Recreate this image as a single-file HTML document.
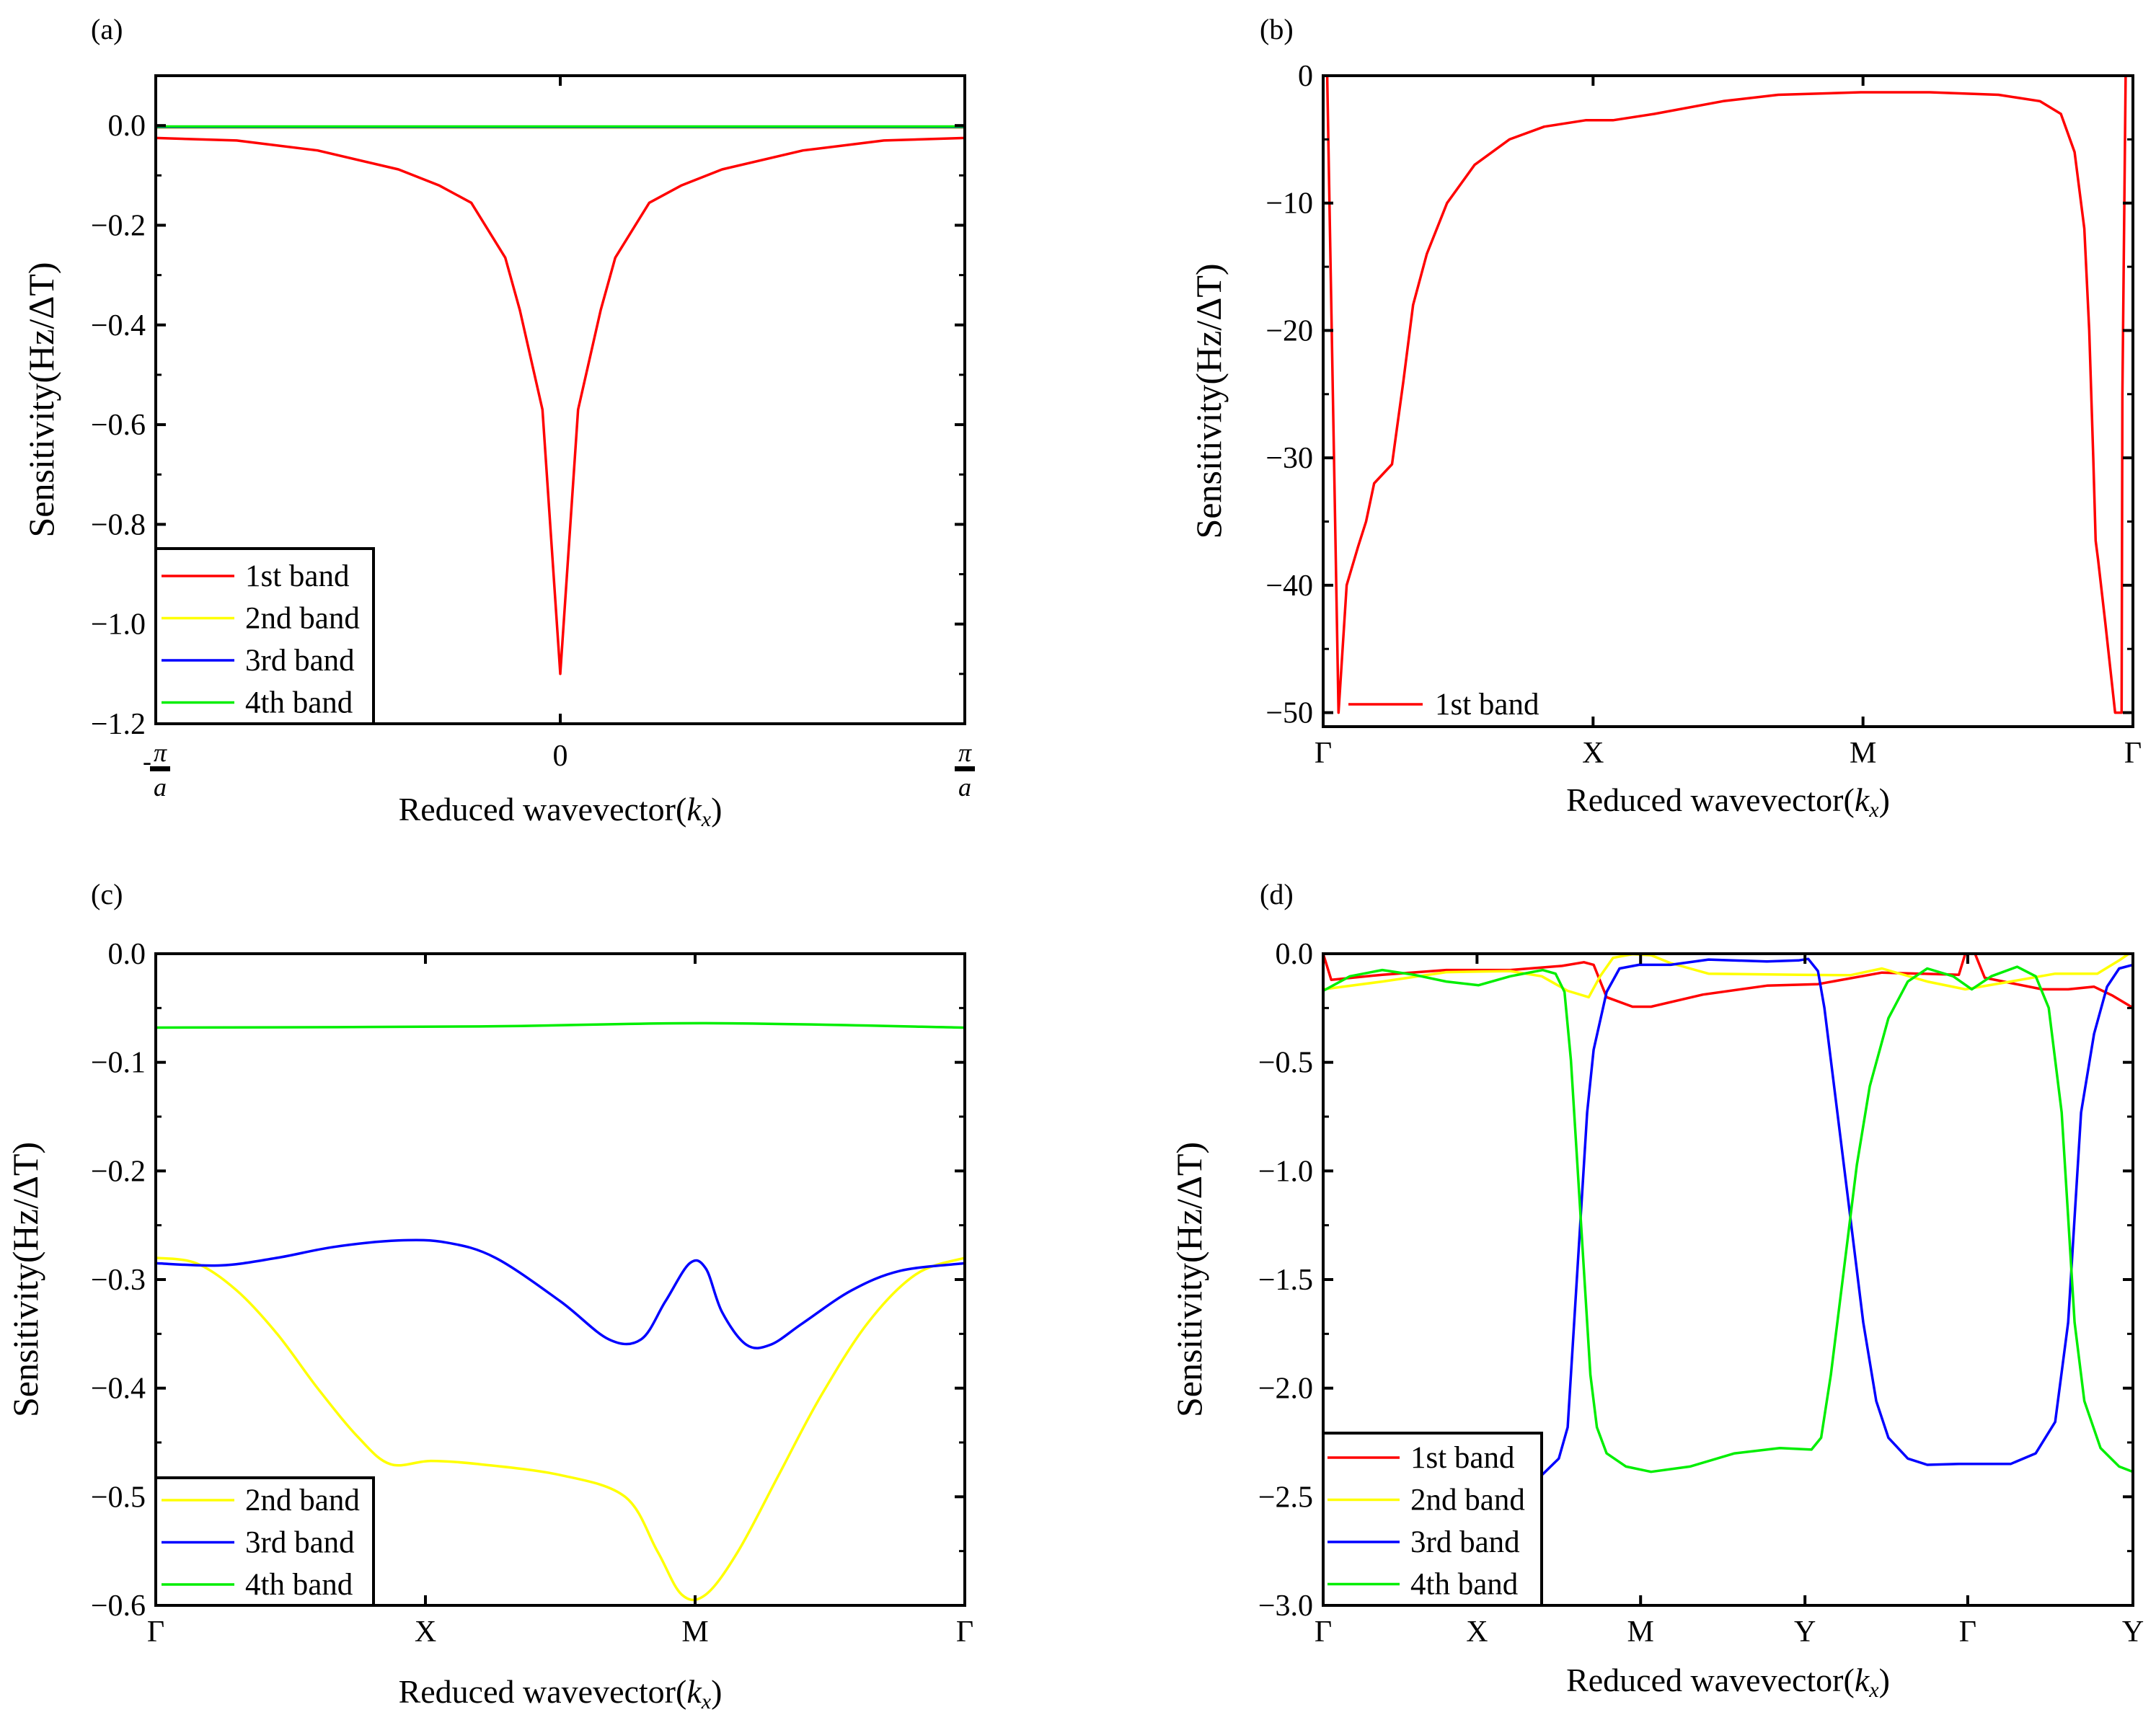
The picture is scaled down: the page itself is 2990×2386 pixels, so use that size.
<!DOCTYPE html>
<html><head><meta charset="utf-8"><style>
html,body{margin:0;padding:0;background:#fff;}
svg{display:block;font-family:"Liberation Serif",serif;}
</style></head><body>
<svg id="fig" width="2990" height="2386" viewBox="0 0 2990 2386" xmlns="http://www.w3.org/2000/svg"></svg>
<script>
// ---- Panel (a) data ----
const aX=[-1,-0.8,-0.6,-0.4,-0.3,-0.22,-0.136,-0.1,-0.044,0,0.044,0.1,0.136,0.22,0.3,0.4,0.6,0.8,1];
const a1=[-0.025,-0.03,-0.05,-0.088,-0.12,-0.155,-0.265,-0.37,-0.57,-1.1,-0.57,-0.37,-0.265,-0.155,-0.12,-0.088,-0.05,-0.03,-0.025];
const aFlatX=[-1,1];
const a2=[-0.004,-0.004];
const a3=[-0.003,-0.003];
const a4=[-0.002,-0.002];
const aTicksY=[0,-0.2,-0.4,-0.6,-0.8,-1.0,-1.2];
const aTickLabelsY=["0.0","\u22120.2","\u22120.4","\u22120.6","\u22120.8","\u22121.0","\u22121.2"];
// ---- Panel (b) data ----
const bX=[0,0.005,0.019,0.029,0.043,0.053,0.063,0.085,0.099,0.111,0.128,0.153,0.187,0.23,0.273,0.324,0.358,0.409,0.494,0.562,0.664,0.749,0.834,0.885,0.911,0.928,0.94,0.946,0.951,0.954,0.957,0.966,0.978,0.986,0.987,0.991];
const b1=[0,0,-50,-40,-37,-35,-32,-30.5,-24,-18,-14,-10,-7,-5,-4,-3.5,-3.5,-3,-2,-1.5,-1.3,-1.3,-1.5,-2,-3,-6,-12,-20,-30,-36.5,-38,-43,-50,-50,-25,0];
const bTicksY=[0,-10,-20,-30,-40,-50];
const bTickLabelsY=["0","\u221210","\u221220","\u221230","\u221240","\u221250"];
// ---- Panel (c) data ----
const c2X=[0,0.05,0.1,0.15,0.2,0.25,0.29,0.34,0.4,0.5,0.58,0.62,0.65,0.68,0.72,0.77,0.82,0.88,0.94,1];
const c2=[-0.28,-0.285,-0.31,-0.35,-0.4,-0.445,-0.47,-0.467,-0.47,-0.48,-0.5,-0.55,-0.59,-0.59,-0.55,-0.48,-0.41,-0.34,-0.295,-0.28];
const c3X=[0,0.08,0.15,0.22,0.3,0.36,0.42,0.5,0.56,0.6,0.63,0.66,0.68,0.7,0.73,0.76,0.8,0.86,0.92,1];
const c3=[-0.285,-0.287,-0.28,-0.27,-0.264,-0.266,-0.28,-0.32,-0.355,-0.355,-0.32,-0.285,-0.29,-0.33,-0.36,-0.36,-0.34,-0.31,-0.292,-0.285];
const c4X=[0,0.4,0.68,1];
const c4=[-0.068,-0.067,-0.064,-0.068];
const cTicksY=[0,-0.1,-0.2,-0.3,-0.4,-0.5,-0.6];
const cTickLabelsY=["0.0","\u22120.1","\u22120.2","\u22120.3","\u22120.4","\u22120.5","\u22120.6"];
// ---- Panel (d) data ----
const d1X=[0,0.01,0.073,0.152,0.231,0.295,0.322,0.334,0.35,0.382,0.405,0.469,0.548,0.611,0.69,0.785,0.793,0.805,0.817,0.888,0.92,0.952,0.975,1];
const d1=[0,-0.12,-0.097,-0.075,-0.075,-0.056,-0.039,-0.051,-0.2,-0.244,-0.244,-0.188,-0.147,-0.14,-0.087,-0.097,0,0,-0.111,-0.164,-0.164,-0.152,-0.193,-0.249];
const d2X=[0,0.073,0.152,0.231,0.27,0.302,0.328,0.342,0.358,0.382,0.405,0.429,0.476,0.588,0.651,0.69,0.746,0.793,0.849,0.904,0.956,0.983,0.995,1];
const d2=[-0.164,-0.128,-0.085,-0.08,-0.104,-0.171,-0.2,-0.104,-0.019,-0.002,-0.007,-0.043,-0.092,-0.097,-0.099,-0.068,-0.128,-0.164,-0.128,-0.092,-0.092,-0.031,0,0];
const d3X=[0,0.073,0.152,0.231,0.271,0.291,0.302,0.31,0.318,0.326,0.334,0.35,0.366,0.39,0.429,0.476,0.548,0.587,0.599,0.611,0.619,0.635,0.651,0.667,0.683,0.698,0.722,0.746,0.785,0.849,0.88,0.904,0.92,0.928,0.936,0.952,0.968,0.983,1];
const d3=[-2.344,-2.373,-2.414,-2.414,-2.397,-2.324,-2.18,-1.697,-1.214,-0.731,-0.442,-0.176,-0.068,-0.051,-0.051,-0.027,-0.036,-0.031,-0.024,-0.08,-0.249,-0.731,-1.214,-1.697,-2.059,-2.228,-2.324,-2.353,-2.349,-2.349,-2.3,-2.155,-1.697,-1.214,-0.731,-0.369,-0.152,-0.068,-0.051];
const d4X=[0,0.033,0.073,0.112,0.152,0.192,0.231,0.271,0.287,0.298,0.306,0.314,0.322,0.33,0.338,0.35,0.374,0.405,0.453,0.508,0.564,0.603,0.615,0.627,0.643,0.659,0.675,0.698,0.722,0.746,0.778,0.801,0.825,0.857,0.88,0.896,0.912,0.92,0.928,0.94,0.96,0.983,1];
const d4=[-0.171,-0.104,-0.075,-0.097,-0.128,-0.145,-0.104,-0.075,-0.092,-0.176,-0.49,-0.973,-1.456,-1.938,-2.18,-2.3,-2.361,-2.385,-2.361,-2.3,-2.276,-2.283,-2.228,-1.938,-1.456,-0.973,-0.611,-0.297,-0.128,-0.068,-0.104,-0.164,-0.104,-0.06,-0.104,-0.249,-0.731,-1.214,-1.697,-2.059,-2.276,-2.361,-2.385];
const dTicksY=[0,-0.5,-1.0,-1.5,-2.0,-2.5,-3.0];
const dTickLabelsY=["0.0","\u22120.5","\u22121.0","\u22121.5","\u22122.0","\u22122.5","\u22123.0"];

const NS="http://www.w3.org/2000/svg";
const svg=document.getElementById('fig');
function mk(tag,attrs,parent,text){const e=document.createElementNS(NS,tag);for(const k in attrs)e.setAttribute(k,attrs[k]);if(text!==undefined)e.textContent=text;(parent||svg).appendChild(e);return e;}
const COL={red:"#ff0000",yel:"#ffff00",blu:"#0000ff",grn:"#00ee00"};

function smoothPath(P){
  let d='M'+P[0][0].toFixed(1)+','+P[0][1].toFixed(1);
  for(let i=0;i<P.length-1;i++){
    const p0=P[i-1]||P[i],p1=P[i],p2=P[i+1],p3=P[i+2]||p2;
    const c1=[p1[0]+(p2[0]-p0[0])/6,p1[1]+(p2[1]-p0[1])/6];
    const c2=[p2[0]-(p3[0]-p1[0])/6,p2[1]-(p3[1]-p1[1])/6];
    d+=' C'+c1[0].toFixed(1)+','+c1[1].toFixed(1)+' '+c2[0].toFixed(1)+','+c2[1].toFixed(1)+' '+p2[0].toFixed(1)+','+p2[1].toFixed(1);
  }
  return d;
}

function panel(p){
  const g=mk('g',{});
  
  
  const sx=v=>p.x0+(v-p.xmin)/(p.xmax-p.xmin)*(p.x1-p.x0);
  const sy=v=>p.y0+(p.ymax-v)/(p.ymax-p.ymin)*(p.y1-p.y0);
  const pl=mk('text',{x:p.lx,y:p.ly,'font-size':40},g,'('+p.id+')');
  
  
  p.series.forEach(s=>{
    const P=s.x.map((xv,i)=>[sx(xv),sy(s.y[i])]);
    let l;
    if(p.smooth){
      l=mk('path',{d:smoothPath(P),fill:'none',stroke:s.c,'stroke-width':3.5},g);
    } else {
      l=mk('polyline',{points:P.map(q=>q[0].toFixed(1)+','+q[1].toFixed(1)).join(' '),fill:'none',stroke:s.c,'stroke-width':3.5,'stroke-linejoin':'round'},g);
    }
    
    
  });
  const fr=mk('rect',{x:p.x0,y:p.y0,width:p.x1-p.x0,height:p.y1-p.y0,fill:'none',stroke:'#000','stroke-width':4},g);
  
  
  const ya=mk('g',{},g);
  
  
  p.ty.forEach((t,i)=>{
    const y=sy(t);
    mk('line',{x1:p.x0,x2:p.x0+14,y1:y,y2:y,stroke:'#000','stroke-width':4},ya);
    mk('line',{x1:p.x1,x2:p.x1-14,y1:y,y2:y,stroke:'#000','stroke-width':4},ya);
    const lb=mk('text',{x:p.x0-14,y:y+14,'font-size':42,'text-anchor':'end'},ya,p.tl[i]);
    
    
    if(i<p.ty.length-1){const m=sy((t+p.ty[i+1])/2);
      mk('line',{x1:p.x0,x2:p.x0+8,y1:m,y2:m,stroke:'#000','stroke-width':3},ya);
      mk('line',{x1:p.x1,x2:p.x1-8,y1:m,y2:m,stroke:'#000','stroke-width':3},ya);}
  });
  const xa=mk('g',{},g);
  
  
  p.tx.forEach((t,i)=>{
    const x=sx(t);
    mk('line',{x1:x,x2:x,y1:p.y1,y2:p.y1-14,stroke:'#000','stroke-width':4},xa);
    mk('line',{x1:x,x2:x,y1:p.y0,y2:p.y0+14,stroke:'#000','stroke-width':4},xa);
    const lb=p.txl[i];
    if(lb==='PI-'||lb==='PI+'){
      const cx=x+(lb==='PI-'?6:0);
      if(lb==='PI-')mk('text',{x:cx-24,y:p.y1+64,'font-size':36},xa,'-');
      const n=mk('text',{x:cx,y:p.y1+52,'font-size':36,'font-style':'italic','text-anchor':'middle'},xa,'\u03c0');
      
      
      mk('rect',{x:cx-14,y:p.y1+59,width:28,height:7,fill:'#000'},xa);
      mk('text',{x:cx,y:p.y1+100,'font-size':36,'font-style':'italic','text-anchor':'middle'},xa,'a');
    } else {
      const tt=mk('text',{x:x,y:p.y1+p.txo,'font-size':42,'text-anchor':'middle'},xa,lb);
      
      
    }
  });
  const xt=mk('text',{x:(p.x0+p.x1)/2,y:p.xty,'font-size':46,'text-anchor':'middle'},g);
  
  
  mk('tspan',{},xt,'Reduced wavevector(');
  mk('tspan',{'font-style':'italic'},xt,'k');
  mk('tspan',{'font-style':'italic','font-size':30,dy:8},xt,'x');
  mk('tspan',{dy:-8},xt,')');
  const yt=mk('text',{x:0,y:0,'font-size':50,'text-anchor':'middle',transform:`translate(${p.ytx},${(p.y0+p.y1)/2}) rotate(-90)`},g,'Sensitivity(Hz/\u0394T)');
  
  
  const lg=mk('g',{},g);
  
  
  if(p.leg.box)mk('rect',{x:p.leg.box[0],y:p.leg.box[1],width:p.leg.box[2],height:p.leg.box[3],fill:'#fff',stroke:'#000','stroke-width':4},lg);
  p.leg.items.forEach((it,i)=>{
    const y=p.leg.y0+i*p.leg.dy;
    const e=mk('g',{},lg);
    
    
    mk('line',{x1:p.leg.lx0,x2:p.leg.lx1,y1:y,y2:y,stroke:it[1],'stroke-width':3.5},e);
    mk('text',{x:p.leg.tx,y:y+14,'font-size':43},e,it[0]);
  });
}

const L4=[["1st band",COL.red],["2nd band",COL.yel],["3rd band",COL.blu],["4th band",COL.grn]];
panel({id:'a',x0:216,x1:1338,y0:105,y1:1004,xmin:-1,xmax:1,ymin:-1.2,ymax:0.1,lx:126,ly:54,
  series:[{name:'1st band',x:aX,y:a1,c:COL.red},{name:'2nd band',x:aFlatX,y:a2,c:COL.yel},{name:'3rd band',x:aFlatX,y:a3,c:COL.blu},{name:'4th band',x:aFlatX,y:a4,c:COL.grn}],
  ty:aTicksY,tl:aTickLabelsY,tx:[-1,0,1],txl:['PI-','0','PI+'],txo:58,xty:1138,ytx:74,
  leg:{box:[216,761,302,243],items:L4,y0:799,dy:58.5,lx0:224,lx1:325,tx:340}});
panel({id:'b',x0:1835,x1:2958,y0:105,y1:1008,xmin:0,xmax:1,ymin:-51.1,ymax:0,lx:1747,ly:54,
  series:[{name:'1st band',x:bX,y:b1,c:COL.red}],
  ty:bTicksY,tl:bTickLabelsY,tx:[0,1/3,2/3,1],txl:['\u0393','X','M','\u0393'],txo:50,xty:1125,ytx:1693,
  leg:{box:null,items:[["1st band",COL.red]],y0:977,dy:0,lx0:1870,lx1:1973,tx:1990}});
panel({id:'c',x0:216,x1:1338,y0:1323,y1:2227,xmin:0,xmax:1,ymin:-0.6,ymax:0,lx:126,ly:1254,smooth:true,
  series:[{name:'2nd band',x:c2X,y:c2,c:COL.yel},{name:'3rd band',x:c3X,y:c3,c:COL.blu},{name:'4th band',x:c4X,y:c4,c:COL.grn}],
  ty:cTicksY,tl:cTickLabelsY,tx:[0,1/3,2/3,1],txl:['\u0393','X','M','\u0393'],txo:50,xty:2362,ytx:52,
  leg:{box:[216,2050,302,177],items:L4.slice(1),y0:2081,dy:58.5,lx0:224,lx1:325,tx:340}});
panel({id:'d',x0:1835,x1:2958,y0:1323,y1:2227,xmin:0,xmax:1,ymin:-3,ymax:0,lx:1747,ly:1254,
  series:[{name:'1st band',x:d1X,y:d1,c:COL.red},{name:'2nd band',x:d2X,y:d2,c:COL.yel},{name:'3rd band',x:d3X,y:d3,c:COL.blu},{name:'4th band',x:d4X,y:d4,c:COL.grn}],
  ty:dTicksY,tl:dTickLabelsY,tx:[0,0.19,0.392,0.595,0.796,1],txl:['\u0393','X','M','Y','\u0393','Y'],txo:50,xty:2346,ytx:1666,
  leg:{box:[1835,1988,303,239],items:L4,y0:2022,dy:58.5,lx0:1841,lx1:1941,tx:1956}});
</script>
</body></html>
